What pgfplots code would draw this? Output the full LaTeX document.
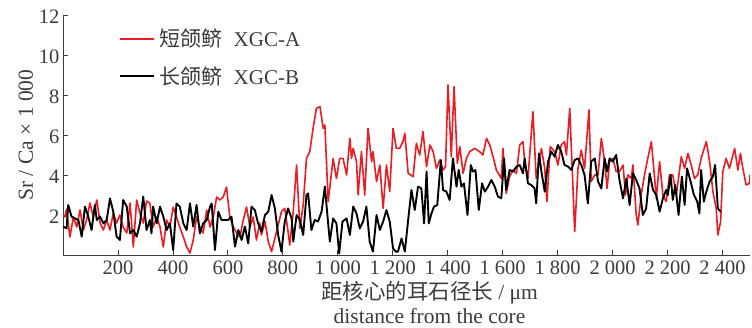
\documentclass[border=0pt]{standalone}
\usepackage{fontspec}
\setmainfont{Liberation Serif}
\newfontfamily\cjk{Noto Sans CJK SC}
\usepackage{pgfplots}
\pgfplotsset{compat=1.18}
\definecolor{myred}{RGB}{237,28,36}
\definecolor{axgray}{RGB}{60,60,60}
\begin{document}
\begin{tikzpicture}
\begin{axis}[
  scale only axis, width=687pt, height=240pt,
  xmin=0, xmax=2500, ymin=0, ymax=12,
  axis x line*=bottom, axis y line*=left,
  axis line style={axgray, line width=0.8pt},
  xtick={200,400,...,2400}, ytick={2,4,...,12},
  tick align=inside, major tick length=5pt,
  tick style={axgray, line width=0.8pt},
  ticklabel style={font=\fontsize{20.5}{24}\selectfont, text=axgray},
  xticklabel style={yshift=-2pt},
  yticklabel style={yshift=-2pt},
  /pgf/number format/assume math mode=true,
  /pgf/number format/1000 sep={\ },
  label style={font=\fontsize{21.5}{24}\selectfont, text=axgray},
  ylabel={Sr / Ca × 1 000},
  xlabel={{\cjk 距核心的耳石径长} / μm\\distance from the core},
  xlabel style={align=center, inner sep=0.5pt, yshift=-3pt, xshift=23pt},
  ylabel style={yshift=-1pt},
  legend style={draw=none, fill=none, inner sep=0pt, at={(axis description cs:0.081,0.95)}, anchor=north west, font=\fontsize{21}{24}\selectfont, text=axgray, row sep=14pt},
  legend cell align=left,
  legend image code/.code={\draw[#1] (0pt,0pt) -- (34pt,0pt);},
]
\addplot[myred, line width=1.6pt, line join=round] coordinates {
(1,2.0)(7,1.9)(13,2.3)(25,0.9)(38,1.9)(50,1.4)(62,2.25)(74,1.25)(86,1.75)(98,2.6)(110,1.9)(123,2.75)(135,1.6)(147,1.25)(159,1.75)(171,1.25)(183,2.1)(195,1.6)(207,2.0)(219,1.4)(232,1.1)(244,2.6)(256,0.4)(268,2.75)(280,2.1)(292,1.6)(304,2.7)(316,2.6)(328,1.4)(341,1.9)(353,1.4)(365,0.4)(377,1.75)(389,1.4)(401,2.4)(413,1.9)(425,1.4)(438,0.9)(450,0.4)(462,0.1)(474,0.75)(486,1.9)(498,1.4)(510,1.1)(523,2.25)(535,1.4)(547,1.9)(559,2.9)(571,2.75)(583,2.9)(595,3.4)(607,1.9)(620,1.4)(632,1.1)(644,0.9)(656,1.75)(668,2.4)(680,1.4)(692,1.9)(704,0.75)(716,1.6)(722,1.0)(735,1.67)(747,0.67)(759,0.17)(771,0.83)(783,1.5)(795,2.17)(807,2.33)(819,1.17)(825,0.5)(838,2.2)(850,4.5)(862,1.33)(874,2.5)(886,4.83)(898,5.17)(910,6.33)(922,7.33)(935,7.42)(947,6.33)(953,6.5)(965,2.67)(983,4.83)(995,3.83)(1007,4.83)(1019,4.83)(1032,4.0)(1044,5.83)(1050,4.83)(1056,5.33)(1068,4.67)(1074,3.0)(1086,5.17)(1098,3.0)(1110,6.33)(1123,4.67)(1128,5.17)(1141,3.67)(1153,4.5)(1165,2.33)(1177,4.5)(1189,3.17)(1201,6.33)(1213,5.33)(1225,5.33)(1237,5.67)(1244,6.08)(1256,4.08)(1274,3.92)(1286,5.58)(1298,5.0)(1310,6.17)(1323,4.42)(1335,5.5)(1347,5.17)(1359,4.33)(1371,4.75)(1383,4.25)(1392,4.42)(1401,8.5)(1413,4.92)(1423,8.42)(1435,4.58)(1444,5.42)(1456,4.08)(1468,4.83)(1480,5.17)(1498,5.33)(1516,5.17)(1528,5.0)(1541,5.83)(1553,5.5)(1565,4.92)(1577,4.25)(1595,3.83)(1601,5.33)(1613,3.08)(1625,3.92)(1638,4.25)(1650,4.08)(1662,5.5)(1674,5.67)(1680,4.67)(1692,3.83)(1710,7.17)(1722,3.83)(1741,5.33)(1753,4.33)(1761,2.67)(1773,5.42)(1789,5.17)(1801,4.5)(1813,5.5)(1825,5.67)(1832,5.0)(1844,7.33)(1853,4.33)(1862,1.17)(1874,4.33)(1886,5.25)(1898,4.33)(1914,7.25)(1922,3.67)(1935,4.0)(1947,4.0)(1959,5.83)(1971,4.67)(1980,3.33)(1989,4.67)(2001,4.83)(2013,4.17)(2025,4.17)(2038,4.5)(2047,3.0)(2056,4.0)(2068,3.83)(2074,4.5)(2086,2.0)(2092,1.5)(2104,3.0)(2116,4.0)(2128,4.83)(2141,5.67)(2153,3.83)(2159,2.83)(2171,4.67)(2183,3.0)(2195,2.67)(2207,4.0)(2219,4.0)(2232,3.0)(2250,4.92)(2262,4.33)(2274,5.08)(2286,4.5)(2298,3.83)(2310,4.0)(2322,4.83)(2341,5.67)(2353,4.67)(2365,3.17)(2377,2.33)(2383,1.0)(2393,1.67)(2401,4.17)(2413,4.83)(2425,4.33)(2438,5.0)(2444,5.33)(2456,4.25)(2465,5.08)(2474,4.33)(2486,3.5)(2498,3.58)(2500,4.0)
};
\addlegendentry{\hspace{3pt}{\cjk 短颌鲚}\hspace{11pt}XGC-A}
\addplot[black, line width=1.9pt, line join=round] coordinates {
(1,1.42)(13,1.33)(19,2.5)(31,1.92)(44,1.83)(56,1.75)(68,0.92)(80,2.42)(92,1.92)(104,1.25)(116,2.5)(123,1.75)(135,1.92)(147,1.58)(159,1.75)(171,2.83)(183,2.17)(195,0.92)(207,0.75)(219,2.75)(232,2.42)(244,1.08)(256,1.25)(268,0.92)(280,1.58)(292,2.92)(304,1.25)(316,1.75)(322,1.08)(328,2.42)(341,1.58)(353,2.42)(365,1.92)(377,1.25)(389,1.58)(401,0.25)(413,2.58)(425,2.42)(438,1.58)(450,1.25)(462,2.58)(474,1.42)(486,2.5)(498,1.08)(510,1.58)(523,1.75)(535,2.42)(541,2.58)(553,0.25)(565,2.17)(577,1.75)(589,1.75)(601,1.75)(613,1.92)(626,0.42)(638,1.25)(650,0.75)(662,1.42)(674,0.58)(686,2.42)(698,2.25)(710,1.58)(722,1.17)(735,2.0)(747,2.17)(759,3.0)(771,2.33)(783,1.0)(795,0.17)(807,1.67)(819,2.33)(832,1.83)(838,0.67)(850,2.0)(862,1.75)(874,1.0)(886,3.0)(892,3.08)(904,1.25)(916,1.75)(928,1.67)(941,2.17)(953,3.42)(961,2.17)(971,0.67)(983,1.83)(995,1.58)(1005,0.08)(1017,1.67)(1032,1.83)(1044,1.0)(1056,2.42)(1068,2.08)(1080,1.33)(1092,1.67)(1104,2.42)(1116,0.67)(1128,0.17)(1141,2.0)(1153,1.25)(1165,1.67)(1177,2.25)(1189,1.67)(1201,0.33)(1211,0.17)(1219,0.17)(1232,0.83)(1244,0.17)(1256,1.75)(1268,3.25)(1280,2.25)(1292,3.42)(1304,3.33)(1314,1.58)(1323,4.17)(1331,1.58)(1341,2.08)(1350,2.42)(1362,2.5)(1375,4.75)(1383,3.25)(1395,3.17)(1407,2.75)(1419,4.83)(1432,3.42)(1440,4.25)(1450,3.42)(1459,3.58)(1472,2.0)(1484,4.5)(1492,4.17)(1501,4.25)(1513,2.25)(1525,3.58)(1535,3.17)(1547,3.42)(1559,3.75)(1571,3.42)(1583,2.92)(1595,2.83)(1605,4.83)(1613,3.25)(1625,4.25)(1638,4.17)(1650,4.42)(1662,4.5)(1674,4.08)(1680,4.83)(1692,3.58)(1704,3.5)(1716,3.33)(1722,2.58)(1732,5.08)(1741,4.17)(1753,3.17)(1765,4.67)(1777,5.17)(1789,4.92)(1801,5.5)(1813,5.17)(1825,4.5)(1838,4.42)(1850,4.25)(1862,4.75)(1874,4.83)(1886,4.5)(1898,4.0)(1910,2.58)(1922,4.67)(1935,4.83)(1947,3.67)(1959,3.33)(1971,4.83)(1980,4.17)(1989,4.83)(2001,4.67)(2013,5.0)(2025,3.75)(2038,2.83)(2050,3.83)(2062,2.5)(2074,4.08)(2086,3.75)(2098,3.33)(2110,2.0)(2122,2.33)(2135,4.08)(2147,3.25)(2159,3.0)(2171,2.17)(2183,2.83)(2195,3.25)(2201,3.0)(2211,4.0)(2219,2.75)(2228,3.5)(2240,2.0)(2252,3.92)(2262,2.5)(2271,4.33)(2284,3.67)(2296,3.0)(2308,2.67)(2316,2.08)(2322,4.25)(2332,2.67)(2341,3.17)(2353,3.67)(2365,3.92)(2373,4.5)(2383,2.33)(2393,2.17)
};
\addlegendentry{\hspace{3pt}{\cjk 长颌鲚}\hspace{11pt}XGC-B}
\node[font=\fontsize{20.5}{24}\selectfont, text=axgray, xshift=-11pt, yshift=-16pt] at (rel axis cs:0,0) {0};
\end{axis}
\pgfresetboundingbox
\path[use as bounding box] (-63pt,-72pt) rectangle (689pt,255pt);
\end{tikzpicture}
\end{document}
